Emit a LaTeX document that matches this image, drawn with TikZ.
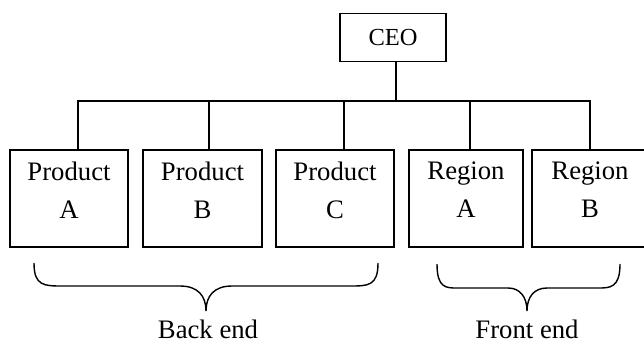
\documentclass[tikz,border=0pt]{standalone}
\usepackage{fontspec}
\setmainfont{Liberation Serif}
\begin{document}
\begin{tikzpicture}[x=1pt,y=-1pt,
    unit/.style={draw, line width=1.8pt, minimum height=97pt, inner sep=0pt},
    label/.style={align=center, font=\fontsize{26.7}{38}\selectfont},
    group/.style={inner sep=0pt, font=\fontsize{26.7}{30}\selectfont},
    link/.style={line width=1.8pt}]
    \useasboundingbox (0,0) rectangle (644,343);

    % Top of the chart
    \node[draw, line width=1.8pt, minimum width=106pt, minimum height=48pt,
          font=\fontsize{24.5}{28}\selectfont] (ceo) at (393,37.5) {CEO};

    % Units
    \node[unit, minimum width=118pt] (pa) at (69,198.5) {};
    \node[unit, minimum width=119pt] (pb) at (202.5,198.5) {};
    \node[unit, minimum width=118pt] (pc) at (335,198.5) {};
    \node[unit, minimum width=114pt] (ra) at (466,198.5) {};
    \node[unit, minimum width=116pt] (rb) at (590,198.5) {};

    \node[label] (pat) at ([yshift=-41pt]pa.north) {Product\\A};
    \node[label] (pbt) at ([yshift=-41pt]pb.north) {Product\\B};
    \node[label] (pct) at ([yshift=-41pt]pc.north) {Product\\C};
    \node[label] (rat) at ([yshift=-41pt]ra.north) {Region\\A};
    \node[label] (rbt) at ([yshift=-41pt]rb.north) {Region\\B};

    % Reporting lines
    \coordinate (bus) at (396,101);
    \draw[link] ([xshift=3pt]ceo.south) -- (bus);
    \draw[link] ([xshift=9pt]pa.north) |- (bus) -| (rb.north);
    \foreach \n/\dx in {pb/6.5, pc/9, ra/4}
        \draw[link] ([xshift=\dx pt]\n.north) -- ++(0,-49);

    % Braces
    \draw[line width=1.4pt] (34,263) .. controls (34,286) and (44,286) .. (63,286)
        -- (180,286) .. controls (198,286) and (206,296) .. (206,311)
        .. controls (206,296) and (214,286) .. (232,286)
        -- (350,286) .. controls (368,286) and (378,286) .. (378,263);
    \draw[line width=1.4pt] (437,264) .. controls (437,288) and (446,288) .. (457,288)
        -- (508,288) .. controls (520,288) and (527,297) .. (527,311)
        .. controls (527,297) and (534,288) .. (547,288)
        -- (598,288) .. controls (610,288) and (620,288) .. (620,264);

    \node[group] (back) at (208,329) {Back end};
    \node[group] (front) at (527,329) {Front end};
\end{tikzpicture}
\end{document}
